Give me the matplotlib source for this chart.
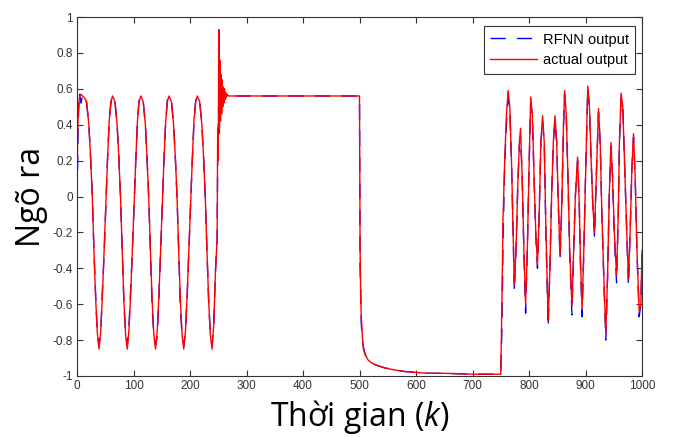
import numpy as np
import matplotlib
matplotlib.use('Agg')
import matplotlib.pyplot as plt

plt.rcParams['font.family'] = ['Liberation Sans', 'DejaVu Sans']
plt.rcParams['mathtext.fontset'] = 'custom'
plt.rcParams['mathtext.it'] = 'Open Sans:italic'
plt.rcParams['mathtext.rm'] = 'Open Sans'

# sinusoid part (k = 0..248)
k_sine = [0, 1, 2, 4, 7, 10, 13, 17, 21, 24, 27, 30, 33, 36, 39, 42, 45, 48, 51, 54, 57, 60, 63,
          67, 71, 74, 77, 80, 83, 86, 89, 92, 95, 98, 101, 104, 107, 110, 113,
          117, 121, 124, 127, 130, 133, 136, 139, 142, 145, 148, 151, 154, 157, 160, 163,
          167, 171, 174, 177, 180, 183, 186, 189, 192, 195, 198, 201, 204, 207, 210, 213,
          217, 221, 224, 227, 230, 233, 236, 239, 242, 245, 248]
actual_sine = [0.0, 0.32, 0.45, 0.55, 0.57, 0.56, 0.55, 0.53, 0.40, 0.22, 0.0, -0.30, -0.57, -0.76, -0.85, -0.75, -0.55, -0.30, -0.05, 0.20, 0.42, 0.53, 0.56,
               0.53, 0.40, 0.22, 0.0, -0.30, -0.58, -0.77, -0.85, -0.74, -0.54, -0.30, -0.05, 0.20, 0.42, 0.53, 0.56,
               0.53, 0.40, 0.21, -0.01, -0.31, -0.58, -0.77, -0.85, -0.75, -0.55, -0.30, -0.05, 0.21, 0.42, 0.53, 0.56,
               0.53, 0.40, 0.22, 0.0, -0.30, -0.58, -0.77, -0.85, -0.75, -0.55, -0.30, -0.05, 0.20, 0.42, 0.53, 0.56,
               0.53, 0.40, 0.22, 0.0, -0.30, -0.58, -0.77, -0.85, -0.72, -0.42, -0.24]
rfnn_sine = [0.0, 0.16, 0.40, 0.58, 0.52, 0.57, 0.55, 0.52, 0.40, 0.22, 0.02, -0.31, -0.55, -0.77, -0.83, -0.76, -0.52, -0.32, -0.05, 0.21, 0.42, 0.52, 0.56,
             0.54, 0.40, 0.22, 0.0, -0.30, -0.59, -0.77, -0.83, -0.72, -0.52, -0.31, -0.05, 0.20, 0.43, 0.54, 0.56,
             0.54, 0.40, 0.21, -0.01, -0.31, -0.62, -0.77, -0.83, -0.78, -0.56, -0.30, -0.05, 0.21, 0.42, 0.54, 0.56,
             0.54, 0.40, 0.22, 0.0, -0.30, -0.63, -0.77, -0.83, -0.75, -0.55, -0.30, -0.05, 0.20, 0.41, 0.53, 0.56,
             0.54, 0.40, 0.22, 0.0, -0.30, -0.58, -0.77, -0.83, -0.72, -0.42, -0.24]

# burst and constant part (k = 249..500)
k_hold = [249, 250, 251, 252, 253, 254, 255, 256, 257, 258, 259, 260, 261, 262, 263, 264, 266, 268, 500]
actual_hold = [0.38, 0.20, 0.93, 0.35, 0.76, 0.42, 0.68, 0.46, 0.65, 0.50, 0.61, 0.52, 0.60, 0.54, 0.58, 0.55, 0.57, 0.56, 0.56]
rfnn_hold = [0.20, 0.38, 0.55, 0.45, 0.62, 0.50, 0.60, 0.52, 0.59, 0.53, 0.58, 0.54, 0.58, 0.55, 0.57, 0.56, 0.56, 0.56, 0.56]

# decay part (k = 501..749)
k_decay = [501, 502, 503, 505, 507, 510, 515, 520, 530, 545, 560, 580, 600, 620, 650, 700, 749]
actual_decay = [-0.28, -0.55, -0.66, -0.78, -0.85, -0.88, -0.91, -0.925, -0.94, -0.955, -0.965, -0.975, -0.98, -0.985, -0.985, -0.99, -0.99]
rfnn_decay = [-0.38, -0.50, -0.70, -0.80, -0.84, -0.88, -0.91, -0.925, -0.94, -0.955, -0.965, -0.975, -0.98, -0.985, -0.985, -0.99, -0.99]

# irregular part (k = 750..1000)
k_chaos = [750, 752, 754, 757, 760, 763, 766, 769, 772, 774,
           777, 780, 783, 785, 788, 791, 794, 797, 800, 803,
           806, 809, 812, 815, 818, 821, 824, 827, 830, 834,
           837, 840, 843, 846, 849, 852, 855, 858, 861, 863,
           866, 869, 872, 876, 879, 882, 886, 889, 891, 894,
           897, 900, 904, 907, 910, 913, 916, 919, 923, 926,
           929, 933, 936, 939, 942, 945, 948, 951, 955, 958,
           960, 963, 966, 969, 972, 976, 979, 982, 985, 988,
           991, 995, 998, 1000]
actual_chaos = [-0.99, -0.60, -0.12, 0.20, 0.45, 0.59, 0.50, 0.20, -0.20, -0.49,
                -0.30, 0.05, 0.30, 0.38, 0.10, -0.30, -0.60, -0.30, 0.15, 0.555,
                0.45, 0.10, -0.20, -0.38, -0.10, 0.30, 0.45, 0.30, -0.20, -0.69,
                -0.40, 0.00, 0.30, 0.45, 0.30, -0.05, -0.33, -0.05, 0.40, 0.59,
                0.45, 0.10, -0.30, -0.61, -0.30, 0.00, 0.22, -0.05, -0.35, -0.63,
                -0.30, 0.10, 0.615, 0.50, 0.20, -0.05, -0.20, 0.10, 0.49, 0.30,
                -0.10, -0.50, -0.76, -0.45, 0.00, 0.30, 0.10, -0.20, -0.44, -0.10,
                0.30, 0.575, 0.50, 0.20, -0.10, -0.46, -0.20, 0.15, 0.35, 0.10,
                -0.30, -0.64, -0.60, -0.30]
rfnn_chaos = [-0.99, -0.75, -0.25, 0.18, 0.40, 0.55, 0.48, 0.20, -0.22, -0.53,
              -0.30, 0.05, 0.29, 0.33, 0.10, -0.32, -0.65, -0.30, 0.15, 0.52,
              0.45, 0.10, -0.22, -0.40, -0.10, 0.30, 0.42, 0.30, -0.22, -0.73,
              -0.40, 0.00, 0.30, 0.42, 0.30, -0.06, -0.35, -0.05, 0.38, 0.57,
              0.45, 0.10, -0.32, -0.66, -0.30, 0.00, 0.20, -0.05, -0.37, -0.67,
              -0.30, 0.10, 0.60, 0.50, 0.20, -0.05, -0.23, 0.10, 0.47, 0.30,
              -0.10, -0.52, -0.80, -0.45, 0.00, 0.28, 0.10, -0.22, -0.48, -0.10,
              0.30, 0.55, 0.50, 0.20, -0.10, -0.50, -0.20, 0.15, 0.33, 0.10,
              -0.30, -0.67, -0.60, -0.32]

k_all = k_sine + k_hold + k_decay + k_chaos
actual = actual_sine + actual_hold + actual_decay + actual_chaos
rfnn = rfnn_sine + rfnn_hold + rfnn_decay + rfnn_chaos

fig = plt.figure(figsize=(6.73, 4.37), dpi=100)
ax = fig.add_axes([77 / 673, 1 - 376 / 437, 565 / 673, 359 / 437])

ax.plot(k_all, rfnn, color='blue', linestyle=(0, (11, 8)), linewidth=1.0, label='RFNN output')
ax.plot(k_all, actual, color='red', linewidth=1.0, label='actual output')

ax.set_xlim(0, 1000)
ax.set_ylim(-1, 1)
ax.set_xticks(range(0, 1001, 100))
ax.set_yticks(np.arange(-1, 1.01, 0.2))
ax.set_yticklabels(['-1', '-0.8', '-0.6', '-0.4', '-0.2', '0', '0.2', '0.4', '0.6', '0.8', '1'])
ax.tick_params(direction='in', top=True, right=True, length=4, labelsize=8.5, colors='#333333', pad=3)
for s in ax.spines.values():
    s.set_color('#333333')
    s.set_linewidth(0.8)

ax.set_xlabel('Thời gian ($k$)', fontsize=23, family=['Open Sans'], labelpad=4)
ax.set_ylabel('Ngõ ra', fontsize=23, family=['Open Sans'], labelpad=3)

leg = ax.legend(loc='upper right', fontsize=10.5, frameon=True, fancybox=False,
                edgecolor='black', handlelength=3.2, handletextpad=0.4,
                borderpad=0.45, labelspacing=0.45, borderaxespad=0,
                bbox_to_anchor=(0.988, 0.975))
leg.get_frame().set_linewidth(0.8)

fig.savefig('out.png', dpi=100)
